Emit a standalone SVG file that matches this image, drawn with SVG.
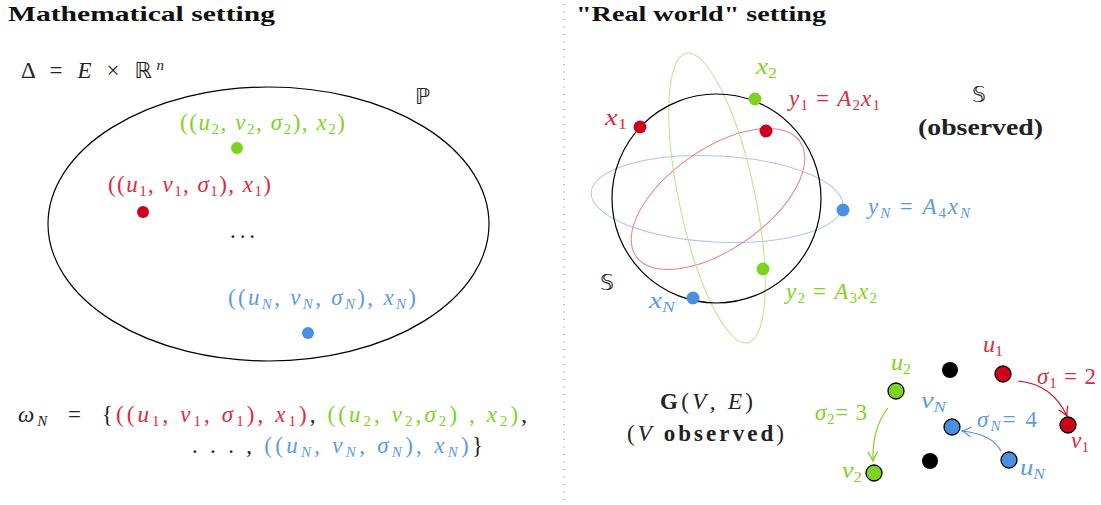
<svg xmlns="http://www.w3.org/2000/svg" width="1101" height="505" viewBox="0 0 1101 505">
<style>
text{font-family:"Liberation Serif","DejaVu Serif",serif;font-size:23px;fill:#222}
.title{font-weight:bold;font-size:22px;fill:#111}
.b{font-weight:bold}
.i{font-style:italic}
.n{font-style:normal}
.s{font-size:15px;baseline-shift:-4px}
.su{font-size:15px;baseline-shift:8px}
.ds{font-family:"DejaVu Sans",sans-serif;font-size:22px}
.red{fill:#e0293f}.grn{fill:#7ed321}.blu{fill:#5b9be6}
.dred{fill:#d0021b}.dgrn{fill:#7ed321}.dblu{fill:#4a90e2}
.gn{stroke:#000;stroke-width:1.3}
</style>
<defs>
<marker id="arR" viewBox="-10 -6 12 12" refX="0" refY="0" markerWidth="12" markerHeight="12" markerUnits="userSpaceOnUse" orient="auto">
<path d="M-9,-5 Q-3,-1 0,0 Q-3,1 -9,5" fill="none" stroke="#d0021b" stroke-width="1.2"/>
</marker>
<marker id="arG" viewBox="-10 -6 12 12" refX="0" refY="0" markerWidth="12" markerHeight="12" markerUnits="userSpaceOnUse" orient="auto">
<path d="M-9,-5 Q-3,-1 0,0 Q-3,1 -9,5" fill="none" stroke="#7ed321" stroke-width="1.2"/>
</marker>
<marker id="arB" viewBox="-10 -6 12 12" refX="0" refY="0" markerWidth="12" markerHeight="12" markerUnits="userSpaceOnUse" orient="auto">
<path d="M-9,-5 Q-3,-1 0,0 Q-3,1 -9,5" fill="none" stroke="#4a90e2" stroke-width="1.2"/>
</marker>
</defs>

<line x1="564" y1="4" x2="564" y2="502" stroke="#777" stroke-width="1" stroke-dasharray="1 6.5"/>

<!-- Left side -->
<g id="left-title"><text class="title" x="8" y="21" textLength="267" lengthAdjust="spacingAndGlyphs">Mathematical setting</text></g>
<g id="delta"><text x="21" y="78" textLength="143">Δ = <tspan class="i">E</tspan> × <tspan class="ds">ℝ</tspan><tspan class="su i">n</tspan></text></g>
<g id="P-set">
<ellipse cx="268.5" cy="224" rx="220.5" ry="137" fill="none" stroke="#000" stroke-width="1.2"/>
<text class="ds" x="415" y="104">ℙ</text>
</g>
<g id="pt2"><text class="grn" x="180" y="130" textLength="165">((<tspan class="i">u</tspan><tspan class="s">2</tspan>, <tspan class="i">v</tspan><tspan class="s">2</tspan>, <tspan class="i">σ</tspan><tspan class="s">2</tspan>), <tspan class="i">x</tspan><tspan class="s">2</tspan>)</text>
<circle cx="237" cy="148" r="6" class="dgrn"/></g>
<g id="pt1"><text class="red" x="108" y="192" textLength="163">((<tspan class="i">u</tspan><tspan class="s">1</tspan>, <tspan class="i">v</tspan><tspan class="s">1</tspan>, <tspan class="i">σ</tspan><tspan class="s">1</tspan>), <tspan class="i">x</tspan><tspan class="s">1</tspan>)</text>
<circle cx="143" cy="212" r="6" class="dred"/></g>
<g id="dots"><text x="230" y="238" textLength="25">. . .</text></g>
<g id="ptN"><text class="blu" x="228" y="305" textLength="188">((<tspan class="i">u</tspan><tspan class="s i">N</tspan>, <tspan class="i">v</tspan><tspan class="s i">N</tspan>, <tspan class="i">σ</tspan><tspan class="s i">N</tspan>), <tspan class="i">x</tspan><tspan class="s i">N</tspan>)</text>
<circle cx="308" cy="333" r="6" class="dblu"/></g>
<g id="omega">
<text x="18" y="422" textLength="509"><tspan class="i">ω</tspan><tspan class="s i">N</tspan>&#160; =&#160; {<tspan class="red">((<tspan class="i">u</tspan><tspan class="s">1</tspan>, <tspan class="i">v</tspan><tspan class="s">1</tspan>, <tspan class="i">σ</tspan><tspan class="s">1</tspan>), <tspan class="i">x</tspan><tspan class="s">1</tspan>)</tspan>, <tspan class="grn">((<tspan class="i">u</tspan><tspan class="s">2</tspan>, <tspan class="i">v</tspan><tspan class="s">2</tspan>,<tspan class="i">σ</tspan><tspan class="s">2</tspan>) , <tspan class="i">x</tspan><tspan class="s">2</tspan>)</tspan>,</text>
<text x="192" y="453" textLength="291">. . . , <tspan class="blu">((<tspan class="i">u</tspan><tspan class="s i">N</tspan>, <tspan class="i">v</tspan><tspan class="s i">N</tspan>, <tspan class="i">σ</tspan><tspan class="s i">N</tspan>), <tspan class="i">x</tspan><tspan class="s i">N</tspan>)</tspan>}</text>
</g>

<!-- Right side -->
<g id="right-title"><text class="title" x="576" y="21" textLength="250" lengthAdjust="spacingAndGlyphs">"Real world" setting</text></g>
<g id="sphere">
<ellipse cx="717" cy="199" rx="126" ry="43" transform="rotate(3 717 199)" fill="none" stroke="#a8c8f0" stroke-width="1"/>
<ellipse cx="718" cy="199" rx="100" ry="50" transform="rotate(-35 718 199)" fill="none" stroke="#e8808c" stroke-width="1"/>
<ellipse cx="717" cy="198" rx="38" ry="148" transform="rotate(-12 717 198)" fill="none" stroke="#b8e48c" stroke-width="1"/>
<circle cx="716.5" cy="198.5" r="104.5" fill="none" stroke="#000" stroke-width="1.2"/>
<text class="ds" x="600" y="290">𝕊</text>
</g>
<g id="x1"><circle cx="640" cy="127" r="6.5" class="dred"/><text class="red i" x="605" y="125" textLength="22" lengthAdjust="spacingAndGlyphs" font-size="20">x<tspan class="s n">1</tspan></text></g>
<g id="x2"><circle cx="755" cy="99" r="6.5" class="dgrn"/><text class="grn i" x="756" y="74" textLength="21" lengthAdjust="spacingAndGlyphs" font-size="20">x<tspan class="s n">2</tspan></text></g>
<g id="y1"><circle cx="766" cy="131" r="6.5" class="dred"/><text class="red" x="789" y="106" textLength="91"><tspan class="i">y</tspan><tspan class="s">1</tspan> = <tspan class="i">A</tspan><tspan class="s">2</tspan><tspan class="i">x</tspan><tspan class="s">1</tspan></text></g>
<g id="yN"><circle cx="843" cy="210" r="6.5" class="dblu"/><text class="blu" x="868" y="214" textLength="102"><tspan class="i">y</tspan><tspan class="s i">N</tspan> = <tspan class="i">A</tspan><tspan class="s">4</tspan><tspan class="i">x</tspan><tspan class="s i">N</tspan></text></g>
<g id="y2"><circle cx="763" cy="269" r="6.5" class="dgrn"/><text class="grn" x="786" y="299" textLength="91"><tspan class="i">y</tspan><tspan class="s">2</tspan> = <tspan class="i">A</tspan><tspan class="s">3</tspan><tspan class="i">x</tspan><tspan class="s">2</tspan></text></g>
<g id="xN"><circle cx="693" cy="298" r="6.5" class="dblu"/><text class="blu i" x="649" y="308" textLength="26" lengthAdjust="spacingAndGlyphs" font-size="20">x<tspan class="s">N</tspan></text></g>
<g id="S-observed">
<text class="ds" x="972" y="102">𝕊</text>
<text class="b" x="918" y="135" textLength="125" lengthAdjust="spacingAndGlyphs" font-size="22">(observed)</text>
</g>
<g id="graph-label">
<text x="660" y="409" textLength="93"><tspan class="b">G</tspan>(<tspan class="i">V</tspan>, <tspan class="i">E</tspan>)</text>
<text x="627" y="441" textLength="157">(<tspan class="i">V</tspan> <tspan class="b">observed</tspan>)</text>
</g>

<g id="connectors" fill="none" stroke-width="1.2">
<path d="M1018,381 Q1052,384 1067,416" stroke="#d0021b" marker-end="url(#arR)"/>
<path d="M888,408 Q872,428 873,461" stroke="#7ed321" marker-end="url(#arG)"/>
<path d="M1001,451 Q992,434 962,431" stroke="#4a90e2" marker-end="url(#arB)"/>
</g>

<g id="n-u2"><circle cx="896" cy="391" r="8" class="dgrn gn"/><text class="grn i" x="891" y="370" textLength="20" lengthAdjust="spacingAndGlyphs" font-size="20">u<tspan class="s n">2</tspan></text></g>
<g id="n-b1"><circle cx="950" cy="370" r="8" fill="#000"/></g>
<g id="n-u1"><circle cx="1003" cy="374" r="8" class="dred gn"/><text class="red i" x="983" y="352" textLength="20" lengthAdjust="spacingAndGlyphs" font-size="20">u<tspan class="s n">1</tspan></text></g>
<g id="n-vN"><circle cx="952" cy="427" r="8" class="dblu gn"/><text class="blu i" x="921" y="408" textLength="25" lengthAdjust="spacingAndGlyphs" font-size="20">v<tspan class="s">N</tspan></text></g>
<g id="n-v1"><circle cx="1068" cy="425" r="8" class="dred gn"/><text class="red i" x="1071" y="448" textLength="18" lengthAdjust="spacingAndGlyphs" font-size="20">v<tspan class="s n">1</tspan></text></g>
<g id="n-b2"><circle cx="930" cy="461" r="8" fill="#000"/></g>
<g id="n-uN"><circle cx="1009" cy="460" r="8" class="dblu gn"/><text class="blu i" x="1020" y="475" textLength="25" lengthAdjust="spacingAndGlyphs" font-size="20">u<tspan class="s">N</tspan></text></g>
<g id="n-v2"><circle cx="874" cy="473" r="8" class="dgrn gn"/><text class="grn i" x="842" y="478" textLength="20" lengthAdjust="spacingAndGlyphs" font-size="20">v<tspan class="s n">2</tspan></text></g>
<g id="edge-labels">
<text class="red" x="1037" y="384" textLength="59" font-size="21"><tspan class="i">σ</tspan><tspan class="s">1</tspan> = 2</text>
<text class="grn" x="815" y="420" textLength="52" font-size="21"><tspan class="i">σ</tspan><tspan class="s">2</tspan>= 3</text>
<text class="blu" x="977" y="427" textLength="60" font-size="21"><tspan class="i">σ</tspan><tspan class="s i">N</tspan>= 4</text>
</g>
</svg>
